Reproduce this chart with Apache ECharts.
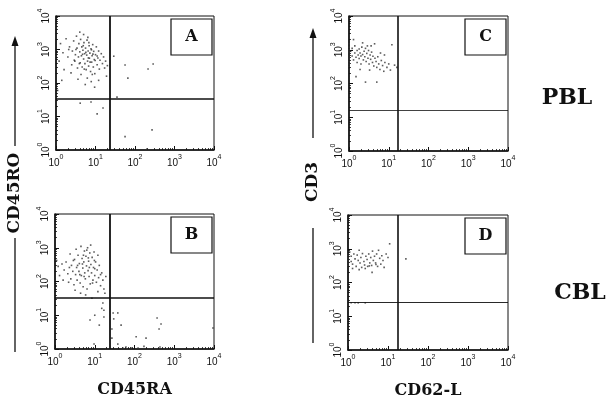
<!DOCTYPE html>
<html>
<head>
<meta charset="utf-8">
<script src="https://cdn.jsdelivr.net/npm/echarts@6/dist/echarts.min.js"></script>
<style>html,body{margin:0;padding:0;background:#fff;}#c{width:609px;height:403px;}</style>
</head>
<body>
<div id="c"></div>
<script>
// ---- data ----
const panelIds = ['A', 'B', 'C', 'D'];
const tickExponents = [0, 1, 2, 3, 4];
const xTitles = ['CD45RA', 'CD62-L'];
const yTitles = ['CD45RO', 'CD3'];
const rowTitles = ['PBL', 'CBL'];
// quadrant gates (fluorescence values)
const gateX = [23, 24, 17, 17.8];
const gateY = [33, 32, 16.4, 26.5];

const pointsA = [
[1.3,1500],[1.5,800],[1.8,2100],[2.0,600],[2.2,1200],[2.5,350],[2.6,900],[2.8,1800],[3.0,450],[3.1,700],
[3.3,2500],[3.4,1100],[3.5,280],[3.7,600],[3.8,1500],[4.0,850],[4.1,400],[4.2,2000],[4.4,650],[4.5,1200],
[4.6,300],[4.8,950],[5.0,520],[5.1,1600],[5.3,750],[5.4,380],[5.6,1100],[5.8,250],[6.0,680],[6.1,1900],
[6.3,450],[6.5,900],[6.7,320],[6.9,1300],[7.0,550],[7.2,780],[7.5,220],[7.7,1050],[8.0,420],[8.2,650],
[8.5,1400],[8.8,300],[9.0,880],[9.3,500],[9.6,190],[10,700],[10.5,1200],[11,350],[11.5,560],[12,900],
[12.5,260],[13,480],[14,750],[15,380],[16,600],[17,280],[18,450],[19,160],[20,330],[4.3,180],
[3.6,130],[5.5,90],[6.2,140],[7.8,110],[2.4,200],[1.6,250],[9.5,75],[12,120],[3.2,1000],[4.9,1300],
[5.7,820],[6.6,560],[7.3,420],[8.6,730],[2.9,480],[3.9,380],[4.7,720],[5.2,260],[6.8,1600],[7.9,980],
[9.8,470],[11,640],[4.0,3300],[5.0,2800],[6.4,2300],[2.1,1000],[1.2,450],[1.4,120],[1.1,60],[8.3,180],
[4.1,25],[7.7,27],[15.5,18],[11,12],
[56,345],[66,140],[214,263],[288,370],[35,38],[29,630],[270,4],[56,2.5],[200,1.07]
];

const pointsB = [
[1.1,420],[1.2,280],[1.3,150],[1.5,330],[1.7,220],[1.9,380],[2.1,170],[2.3,260],[2.5,120],[2.6,300],
[2.8,200],[3.0,80],[3.1,450],[3.3,160],[3.5,260],[3.6,110],[3.8,600],[4.0,200],[4.1,340],[4.3,90],
[4.5,1100],[4.6,150],[4.8,480],[5.0,250],[5.1,70],[5.3,380],[5.5,800],[5.6,180],[5.8,120],[6.0,560],
[6.2,290],[6.4,60],[6.6,1000],[6.8,210],[7.0,400],[7.2,140],[7.5,700],[7.7,85],[8.0,320],[8.3,180],
[8.6,520],[9.0,110],[9.3,260],[9.6,750],[10,150],[10.5,380],[11,95],[11.5,220],[12,600],[12.5,130],
[13,300],[14,75],[15,180],[16,110],[17,60],[18,45],[19,140],[4.4,45],[3.2,55],[5.9,40],
[2.4,650],[3.4,900],[7.9,1200],[6.3,850],[9.8,420],[4.9,330],[5.4,140],[7.3,260],[8.8,90],[12,50],
[2.9,420],[3.7,300],[6.9,500],[10,240],[14,160],[5.2,600],[4.2,160],[2.2,95],[1.6,110],
[8.5,32],[16,23],[15,16],[17,14],[7.6,7.2],[10,10],[17,8.9],[13,5.1],[9.6,1.4],
[29,11.7],[38,11.7],[30,7.8],[46,5.1],[27,3.9],[27,2.1],[370,8.3],[465,5.5],[415,3.9],
[110,2.3],[195,2.1],[38,1.4],[51,1.07],[61,1.15],[82,1.07],[123,1.07],[173,1.2],[437,1.15],[9400,4.2]
];

const pointsC = [
[1,1500],[1,1200],[1,1000],[1,850],[1,700],[1,600],[1,520],[1,450],[1,380],[1,320],[1,260],[1,900],[1,780],[1,650],[1,560],
[1.1,900],[1.2,650],[1.2,1100],[1.3,500],[1.4,800],[1.4,1300],[1.5,600],[1.6,950],[1.6,420],[1.7,700],
[1.8,1050],[1.8,550],[1.9,800],[2.0,650],[2.0,380],[2.1,1200],[2.2,720],[2.3,500],[2.4,900],[2.5,620],
[2.6,1100],[2.7,450],[2.8,780],[3.0,560],[3.1,950],[3.2,380],[3.4,700],[3.5,520],[3.7,850],[3.9,420],
[4.0,640],[4.2,330],[4.5,560],[4.8,450],[5.0,300],[5.3,620],[5.6,380],[6.0,260],[6.5,480],[7.0,340],
[7.5,230],[8.0,420],[9.0,300],[10,380],[11,250],[12,1400],[14,350],[16,300],[1.3,2000],[1.5,160],
[2.6,110],[5.0,110],[3.3,250],[2.2,1600],[4.4,1500],[2.9,1300],[6.2,800],[7.8,700],[3.6,1300],[1.9,260]
];

const pointsD = [
[1,700],[1,550],[1,450],[1,380],[1,320],[1,620],[1,500],
[1.1,800],[1.2,600],[1.2,420],[1.3,350],[1.4,700],[1.5,500],[1.6,300],[1.7,650],[1.8,450],[1.9,900],
[2.0,380],[2.1,550],[2.2,280],[2.3,720],[2.5,420],[2.6,330],[2.8,600],[3.0,480],[3.1,300],[3.3,700],
[3.5,380],[3.7,550],[3.9,320],[4.1,850],[4.3,450],[4.6,600],[4.9,380],[5.2,700],[5.5,300],[5.8,900],
[6.2,520],[6.6,350],[7.0,620],[7.5,450],[8.0,280],[9.0,700],[10,550],[11,1400],[4.0,200],[2.7,260],
[3.4,310],[5.0,340],[1.9,240],[1.3,260],[28,500],
[1.2,25],[1.5,25],[1.8,25],[2.7,25]
];
const allPoints = [pointsA, pointsB, pointsC, pointsD];

// ---- layout (positions/styles) ----
const grids = [
  {left: 56, top: 16, width: 158, height: 134},
  {left: 55, top: 214, width: 159, height: 135},
  {left: 349, top: 16, width: 159, height: 135},
  {left: 348, top: 215, width: 160, height: 135}
];
const vGateW = [1.8, 1.8, 1.6, 1.6];
const hGateW = [1.6, 1.6, 0.8, 0.9];
const serif = '"DejaVu Serif", serif';

function fmt(v) {
  const e = Math.round(Math.log10(v));
  return tickExponents.indexOf(e) >= 0 ? '{b|10}{s|' + e + '}' : '';
}
const rich = {
  b: {fontSize: 10, fontFamily: 'Liberation Sans, Arial, sans-serif', color: '#111', verticalAlign: 'bottom', lineHeight: 14},
  s: {fontSize: 7, fontFamily: 'Liberation Sans, Arial, sans-serif', color: '#111', verticalAlign: 'top', lineHeight: 14, padding: [0, 0, 6, 0]}
};

function axisCommon(isX, i) {
  return {
    type: 'log', logBase: 10, min: 1, max: 10000, gridIndex: i,
    axisLine: {show: true, onZero: false, lineStyle: {color: '#111', width: 1.6}},
    axisTick: {show: true, inside: true, length: 4, lineStyle: {color: '#111', width: 1}},
    minorTick: {show: true, splitNumber: 9, length: 2, lineStyle: {color: '#111', width: 0.8}},
    splitLine: {show: false},
    axisLabel: {formatter: fmt, rich: rich, margin: isX ? 4 : 5, rotate: isX ? 0 : 90},
    name: ''
  };
}

const xAxes = [], yAxes = [], series = [], graphics = [];
grids.forEach((g, i) => {
  const xa = axisCommon(true, i);
  if (i === 1 || i === 3) {
    xa.name = xTitles[i === 1 ? 0 : 1];
    xa.nameLocation = 'middle';
    xa.nameGap = 33;
    xa.nameTextStyle = {fontFamily: serif, fontWeight: 'bold', fontSize: 16, color: '#111'};
  }
  xAxes.push(xa);
  yAxes.push(axisCommon(false, i));
  series.push({
    type: 'scatter', xAxisIndex: i, yAxisIndex: i,
    symbol: 'rect', symbolSize: 1.6,
    itemStyle: {color: '#333'},
    data: allPoints[i],
    silent: true,
    markLine: {
      silent: true, symbol: 'none', animation: false,
      label: {show: false},
      data: [
        {xAxis: gateX[i], lineStyle: {color: '#111', width: vGateW[i], type: 'solid'}},
        {yAxis: gateY[i], lineStyle: {color: '#111', width: hGateW[i], type: 'solid'}}
      ]
    }
  });
  // panel letter box
  const bx = g.left + g.width - 43, by = g.top + 3;
  graphics.push({type: 'rect', shape: {x: bx, y: by, width: 41, height: 36},
    style: {fill: '#fff', stroke: '#111', lineWidth: 1.2}, z: 10});
  graphics.push({type: 'text', x: bx + 20.5, y: by + 18, z: 11,
    style: {text: panelIds[i], fontFamily: serif, fontWeight: 'bold', fontSize: 16, fill: '#111', align: 'center', verticalAlign: 'middle'}});
});

// y titles with arrows
function yTitle(x, topArrow, textCenter, bottom, gapTop, gapBottom, txt) {
  graphics.push({type: 'line', shape: {x1: x, y1: topArrow + 8, x2: x, y2: gapTop}, style: {stroke: '#111', lineWidth: 1.3}});
  graphics.push({type: 'polygon', shape: {points: [[x, topArrow], [x - 3.5, topArrow + 10], [x + 3.5, topArrow + 10]]}, style: {fill: '#111'}});
  graphics.push({type: 'line', shape: {x1: x, y1: gapBottom, x2: x, y2: bottom}, style: {stroke: '#111', lineWidth: 1.3}});
  graphics.push({type: 'text', x: x, y: textCenter, rotation: Math.PI / 2,
    style: {text: txt, fontFamily: serif, fontWeight: 'bold', fontSize: 17, fill: '#111', align: 'center', verticalAlign: 'middle'}});
}
yTitle(15, 36, 193, 352, 146, 238, yTitles[0]);
yTitle(313, 28, 182, 343, 138, 228, yTitles[1]);

graphics.push({type: 'text', x: 567, y: 98, style: {text: rowTitles[0], fontFamily: serif, fontWeight: 'bold', fontSize: 22, fill: '#111', align: 'center', verticalAlign: 'middle'}});
graphics.push({type: 'text', x: 580, y: 293, style: {text: rowTitles[1], fontFamily: serif, fontWeight: 'bold', fontSize: 22, fill: '#111', align: 'center', verticalAlign: 'middle'}});

const option = {
  animation: false,
  backgroundColor: '#fff',
  grid: grids.map(g => Object.assign({show: true, borderColor: '#111', borderWidth: 1, backgroundColor: 'transparent', containLabel: false}, g)),
  xAxis: xAxes,
  yAxis: yAxes,
  series: series,
  graphic: graphics
};
const chart = echarts.init(document.getElementById('c'), null, {renderer: 'canvas'});
chart.setOption(option);
</script>
</body>
</html>
